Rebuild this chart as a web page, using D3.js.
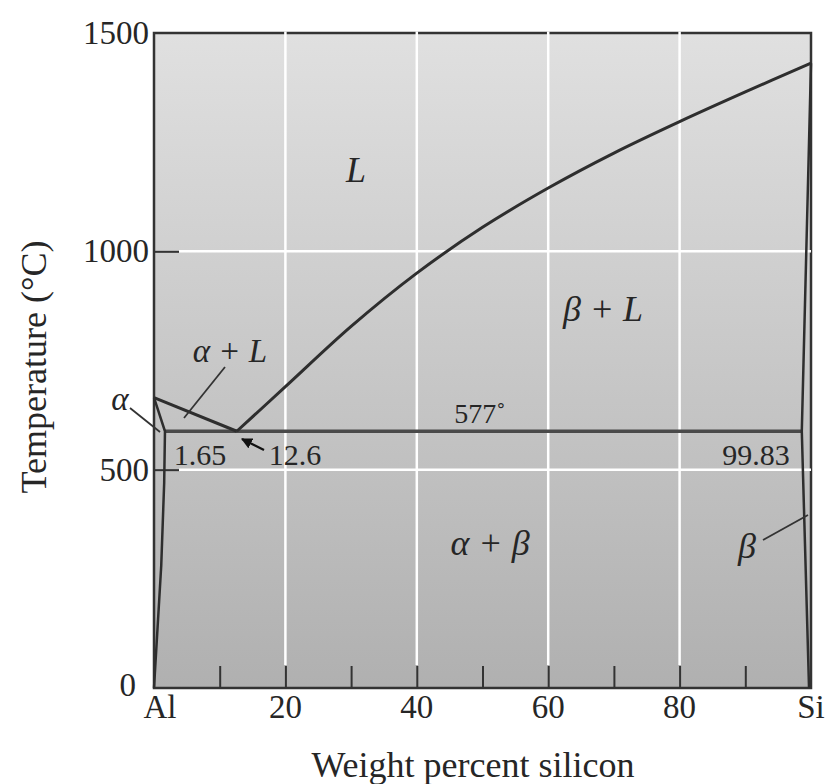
<!DOCTYPE html>
<html><head><meta charset="utf-8">
<script src="https://cdn.jsdelivr.net/npm/d3@7"></script>
<style>body{margin:0;background:#fff}svg{display:block}text{font-family:"Liberation Serif","DejaVu Serif",serif;fill:#262626}</style>
</head><body><svg id="c" width="827" height="784"></svg>
<script>
// ---- data ----
const xMajorTicks = [0, 20, 40, 60, 80, 100];
const xTickLabels = ["Al", "20", "40", "60", "80", "Si"];
const xMinorTicks = [10, 20, 30, 40, 50, 60, 70, 80, 90];
const xGrid = [20, 40, 60, 80];
const yTicks = [0, 500, 1000, 1500];
const yGrid = [500, 1000];
const liquidusAl = [[0, 665], [12.6, 588]];
const liquidusSi = [[12.6, 588], [20, 690], [30, 828], [40, 950], [50, 1055], [60, 1145], [70, 1225], [80, 1297], [90, 1365], [100, 1431]];
const eutecticLine = [[1.67, 588], [98.6, 588]];
const alphaSolvus = [[0, 665], [1.67, 588], [1.55, 470], [1.1, 280], [0, 0]];
const betaSolvus = [[100, 1431], [98.6, 588], [99.7, 0]];

const svg = d3.select("#c");
const x = d3.scaleLinear().domain([0, 100]).range([154, 811]);
const y = d3.scaleLinear().domain([0, 1500]).range([688, 33]);

// background gradient
const defs = svg.append("defs");
const g = defs.append("linearGradient").attr("id", "bg").attr("x1", 0).attr("y1", 0).attr("x2", 0).attr("y2", 1);
g.append("stop").attr("offset", "0%").attr("stop-color", "#e0e0e0");
g.append("stop").attr("offset", "100%").attr("stop-color", "#b0b0b0");
svg.append("rect").attr("x", x(0)).attr("y", y(1500)).attr("width", x(100) - x(0)).attr("height", y(0) - y(1500)).attr("fill", "url(#bg)");

// frame
svg.append("rect").attr("x", x(0)).attr("y", y(1500)).attr("width", x(100) - x(0)).attr("height", y(0) - y(1500))
  .attr("fill", "none").attr("stroke", "#333").attr("stroke-width", 2.5);

// grid
svg.selectAll(".vg").data(xGrid).enter().append("line")
  .attr("x1", d => x(d)).attr("x2", d => x(d)).attr("y1", y(1500) - 1.5).attr("y2", y(0) - 23)
  .attr("stroke", "#fff").attr("stroke-width", 2.5);
svg.selectAll(".hg").data(yGrid).enter().append("line")
  .attr("x1", x(0) + 25).attr("x2", x(100)).attr("y1", d => y(d)).attr("y2", d => y(d))
  .attr("stroke", "#fff").attr("stroke-width", 2.5);

// x axis (ticks inward)
const xAxis = d3.axisTop(x).tickValues(xMinorTicks).tickSize(22).tickFormat("");
const xa = svg.append("g").attr("transform", `translate(0,${y(0)})`).call(xAxis);
xa.select(".domain").remove();
xa.selectAll("line").attr("stroke", "#333").attr("stroke-width", 2);
svg.selectAll(".xl").data(xMajorTicks).enter().append("text")
  .attr("x", d => x(d) + (d === 0 ? 6 : 0)).attr("y", y(0) + 30).attr("text-anchor", "middle")
  .attr("font-size", 33).text((d, i) => xTickLabels[i]);

// y axis (ticks inward)
const yAxis = d3.axisRight(y).tickValues(yTicks.filter(d => d > 0 && d < 1500)).tickSize(25).tickFormat("");
const ya = svg.append("g").attr("transform", `translate(${x(0)},0)`).call(yAxis);
ya.select(".domain").remove();
ya.selectAll("line").attr("stroke", "#333").attr("stroke-width", 2);
svg.selectAll(".yl").data(yTicks).enter().append("text")
  .attr("x", d => d === 0 ? x(0) - 18 : x(0) - 5).attr("y", d => y(d) + (d === 0 ? 8 : 11)).attr("text-anchor", "end")
  .attr("font-size", 33).text(d => d);

// axis titles
svg.append("text").attr("x", 473).attr("y", 777).attr("text-anchor", "middle").attr("font-size", 36).text("Weight percent silicon");
svg.append("text").attr("transform", "translate(46,367) rotate(-90)").attr("text-anchor", "middle").attr("font-size", 36).text("Temperature (°C)");

// phase boundaries
const line = d3.line().x(d => x(d[0])).y(d => y(d[1]));
const curve = d3.line().x(d => x(d[0])).y(d => y(d[1])).curve(d3.curveCatmullRom);
const stroke = "#2e2e2e";
svg.append("path").attr("d", line(eutecticLine)).attr("fill", "none").attr("stroke", "#4a4a4a").attr("stroke-width", 3.5);
svg.append("path").attr("d", line(liquidusAl)).attr("fill", "none").attr("stroke", stroke).attr("stroke-width", 3);
svg.append("path").attr("d", curve(liquidusSi)).attr("fill", "none").attr("stroke", stroke).attr("stroke-width", 3);
svg.append("path").attr("d", line(alphaSolvus)).attr("fill", "none").attr("stroke", stroke).attr("stroke-width", 2.5);
svg.append("path").attr("d", line(betaSolvus)).attr("fill", "none").attr("stroke", stroke).attr("stroke-width", 2.5);

// leader lines
const leaders = [[[130, 408], [160, 432]], [[225, 367], [184, 418]], [[763, 540], [808, 515]]];
leaders.forEach(p => svg.append("line").attr("x1", p[0][0]).attr("y1", p[0][1]).attr("x2", p[1][0]).attr("y2", p[1][1]).attr("stroke", "#333").attr("stroke-width", 1.8));
// arrow for 12.6
defs.append("marker").attr("id", "ah").attr("viewBox", "0 0 10 10").attr("refX", 9).attr("refY", 5)
  .attr("markerWidth", 5).attr("markerHeight", 5).attr("orient", "auto")
  .append("path").attr("d", "M0,0 L10,5 L0,10 z").attr("fill", "#111");
svg.append("line").attr("x1", 264).attr("y1", 450).attr("x2", 242).attr("y2", 439).attr("stroke", "#111").attr("stroke-width", 2.2).attr("marker-end", "url(#ah)");

// labels
const lab = (t, px, py, size, italic) => svg.append("text").attr("x", px).attr("y", py).attr("text-anchor", "middle")
  .attr("font-size", size).attr("font-style", italic ? "italic" : "normal").text(t);
lab("L", 356, 182, 36, true);
lab("β + L", 603, 321, 36, true);
lab("α + L", 230, 362, 33, true);
lab("α", 120, 410, 33, true);
lab("577˚", 480, 423, 28, false);
lab("1.65", 200, 465, 30, false);
lab("12.6", 295, 465, 30, false);
lab("99.83", 756, 465, 30, false);
lab("α + β", 490, 555, 36, true);
lab("β", 747, 558, 36, true);
</script></body></html>
